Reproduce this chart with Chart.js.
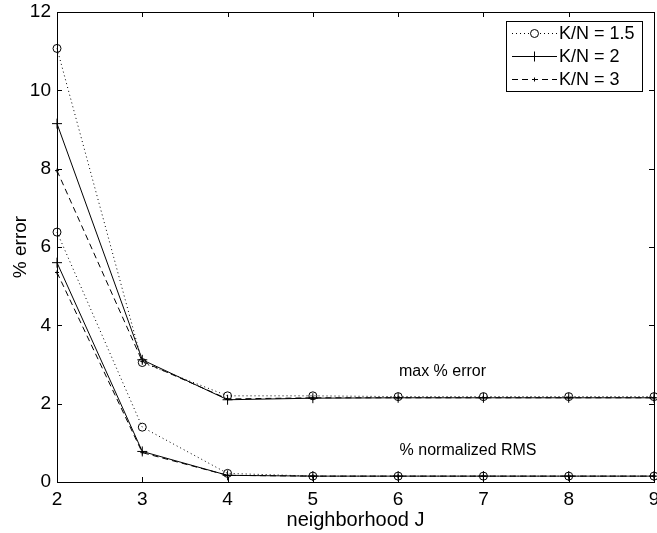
<!DOCTYPE html>
<html>
<head>
<meta charset="utf-8">
<script src="https://cdn.jsdelivr.net/npm/chart.js@4/dist/chart.umd.min.js"></script>
<style>
  html, body { margin: 0; padding: 0; background: #fff; }
  #wrap { width: 657px; height: 533px; }
</style>
</head>
<body>
<div id="wrap"><canvas id="errChart" width="657" height="533"></canvas></div>
<script>
const neighborhoods = [2, 3, 4, 5, 6, 7, 8, 9];
const ratioLabels = ['K/N = 1.5', 'K/N = 2', 'K/N = 3'];

// max % error
const maxErr15 = [11.07, 3.05, 2.20, 2.20, 2.18, 2.18, 2.18, 2.18];
const maxErr2 = [9.15, 3.12, 2.10, 2.14, 2.15, 2.15, 2.15, 2.15];
const maxErr3 = [7.95, 3.08, 2.12, 2.15, 2.15, 2.15, 2.15, 2.15];

// % normalized RMS
const rms15 = [6.38, 1.40, 0.22, 0.15, 0.15, 0.15, 0.15, 0.15];
const rms2 = [5.60, 0.78, 0.17, 0.15, 0.15, 0.15, 0.15, 0.15];
const rms3 = [5.35, 0.75, 0.17, 0.15, 0.15, 0.15, 0.15, 0.15];

const yTicks = [0, 2, 4, 6, 8, 10, 12];

const FONT = '"Liberation Sans", Arial, Helvetica, sans-serif';

const styles = [
    { dash: [1, 3], point: 'circle', radius: 4 },
    { dash: [], point: 'cross', radius: 5 },
    { dash: [6, 4], point: 'cross', radius: 2 }
];

const makeSet = (values, idx) => ({
    label: ratioLabels[idx],
    data: values.map((v, i) => ({ x: neighborhoods[i], y: v })),
    borderColor: '#000',
    backgroundColor: 'rgba(0,0,0,0)',
    borderWidth: 1,
    borderDash: styles[idx].dash,
    pointStyle: styles[idx].point,
    pointRadius: styles[idx].radius,
    pointBorderColor: '#000',
    pointBorderWidth: 1,
    pointBackgroundColor: 'rgba(0,0,0,0)',
    tension: 0,
    clip: false
});

const notes = [
    { text: 'max % error', x: 6.52, y: 2.81 },
    { text: '% normalized RMS', x: 6.82, y: 0.79 }
];

// no extra room for half tick labels
const noPad = s => {
    s.paddingLeft = 0;
    s.paddingRight = 0;
    s.paddingTop = 0;
    s.paddingBottom = 0;
};

// box, inward ticks on all sides, text notes, legend
const framePlugin = {
    id: 'frame',
    afterDatasetsDraw(chart) {
        const { ctx, scales } = chart;
        const L = scales.x.getPixelForValue(2), R = scales.x.getPixelForValue(9);
        const T = scales.y.getPixelForValue(12), B = scales.y.getPixelForValue(0);
        ctx.save();
        ctx.strokeStyle = '#000';
        ctx.lineWidth = 1;
        ctx.setLineDash([]);
        ctx.strokeRect(Math.round(L) + 0.5, Math.round(T) + 0.5, Math.round(R - L), Math.round(B - T));

        const tl = 5;
        ctx.beginPath();
        neighborhoods.forEach(v => {
            const px = Math.round(scales.x.getPixelForValue(v)) + 0.5;
            ctx.moveTo(px, B); ctx.lineTo(px, B - tl);
            ctx.moveTo(px, T); ctx.lineTo(px, T + tl);
        });
        yTicks.forEach(v => {
            const py = Math.round(scales.y.getPixelForValue(v)) + 0.5;
            ctx.moveTo(L, py); ctx.lineTo(L + tl, py);
            ctx.moveTo(R, py); ctx.lineTo(R - tl, py);
        });
        ctx.stroke();

        ctx.fillStyle = '#000';
        ctx.font = '16px ' + FONT;
        ctx.textAlign = 'center';
        ctx.textBaseline = 'middle';
        notes.forEach(n => {
            ctx.fillText(n.text, scales.x.getPixelForValue(n.x), scales.y.getPixelForValue(n.y));
        });

        // legend
        const bx = 506, by = 21, bw = 136, bh = 70;
        ctx.fillStyle = '#fff';
        ctx.fillRect(bx, by, bw, bh);
        ctx.strokeRect(bx + 0.5, by + 0.5, bw, bh);
        ctx.font = '18px ' + FONT;
        ctx.textAlign = 'left';
        chart.data.datasets.slice(0, 3).forEach((ds, i) => {
            const yy = by + 12.5 + i * 23;
            ctx.setLineDash(ds.borderDash);
            ctx.beginPath();
            ctx.moveTo(bx + 6, yy);
            ctx.lineTo(bx + 51, yy);
            ctx.stroke();
            ctx.setLineDash([]);
            Chart.helpers.drawPoint(ctx, {
                pointStyle: ds.pointStyle,
                radius: ds.pointRadius,
                borderWidth: 1
            }, bx + 28.5, yy);
            ctx.fillStyle = '#000';
            ctx.fillText(ds.label, bx + 53, yy + 1);
        });
        ctx.restore();
    }
};

new Chart(document.getElementById('errChart'), {
    type: 'line',
    data: {
        datasets: [
            makeSet(maxErr15, 0), makeSet(maxErr2, 1), makeSet(maxErr3, 2),
            makeSet(rms15, 0), makeSet(rms2, 1), makeSet(rms3, 2)
        ]
    },
    options: {
        responsive: false,
        animation: false,
        layout: { autoPadding: false, padding: { left: 0, right: 3, top: 12, bottom: 0 } },
        plugins: { legend: { display: false }, tooltip: { enabled: false } },
        scales: {
            x: {
                type: 'linear',
                min: 2,
                max: 9,
                grid: { display: false, drawTicks: false },
                border: { display: false },
                afterFit: s => { s.height = 51; noPad(s); },
                ticks: {
                    stepSize: 1,
                    padding: 6,
                    color: '#000',
                    font: { family: FONT, size: 19 },
                    maxRotation: 0
                },
                title: {
                    display: true,
                    text: 'neighborhood J',
                    color: '#000',
                    font: { family: FONT, size: 20 },
                    padding: { top: 0, bottom: 1 }
                }
            },
            y: {
                min: 0,
                max: 12,
                grid: { display: false, drawTicks: false },
                border: { display: false },
                afterFit: s => { s.width = 57; noPad(s); },
                ticks: {
                    stepSize: 2,
                    padding: 6,
                    color: '#000',
                    font: { family: FONT, size: 19 }
                },
                title: {
                    display: true,
                    text: '% error',
                    color: '#000',
                    font: { family: FONT, size: 19 },
                    padding: { top: 9, bottom: 0 }
                }
            }
        }
    },
    plugins: [framePlugin]
});
</script>
</body>
</html>
